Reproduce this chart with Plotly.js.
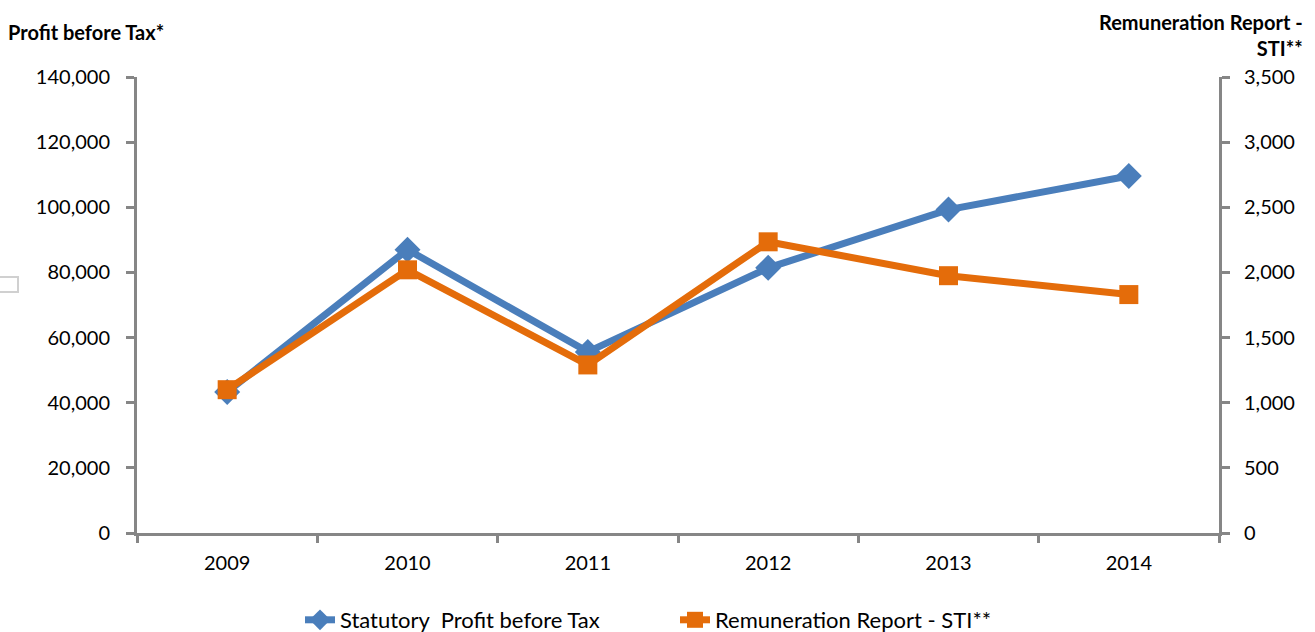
<!DOCTYPE html>
<html>
<head>
<meta charset="utf-8">
<script src="https://cdn.plot.ly/plotly-3.0.1.min.js"></script>
<style>html,body{margin:0;padding:0;background:#fff;}#chart{width:1315px;height:632px;}</style>
</head>
<body>
<div id="chart"></div>
<script>
const years = ["2009", "2010", "2011", "2012", "2013", "2014"];
const profitBeforeTax = [43300, 87000, 55600, 81400, 99300, 109600];
const stiValues = [1100, 2020, 1290, 2235, 1975, 1830];
const leftTickVals = [0, 20000, 40000, 60000, 80000, 100000, 120000, 140000];
const rightTickVals = [0, 500, 1000, 1500, 2000, 2500, 3000, 3500];

const FONT = "Lato, 'Open Sans', sans-serif";
const AXIS_COLOR = "#868686";
const PW = 1082, PH = 456;

const traces = [
  {
    x: years, y: profitBeforeTax, name: "Statutory  Profit before Tax",
    type: "scatter", mode: "lines+markers", yaxis: "y",
    line: {color: "#4A7EBB", width: 7},
    marker: {symbol: "diamond", size: 20, color: "#4A7EBB"}
  },
  {
    x: years, y: stiValues, name: "Remuneration Report - STI**",
    type: "scatter", mode: "lines+markers", yaxis: "y2",
    line: {color: "#E46C0A", width: 7},
    marker: {symbol: "square", size: 19, color: "#E46C0A"}
  }
];

const layout = {
  width: 1315, height: 632,
  margin: {l: 137, r: 96, t: 77, b: 99, autoexpand: false},
  paper_bgcolor: "#fff", plot_bgcolor: "#fff",
  font: {family: FONT, size: 20, color: "#000"},
  showlegend: true,
  legend: {orientation: "h", x: (300-137)/PW, xanchor: "left", y: -(620-533)/PH, yanchor: "middle",
           font: {family: FONT, size: 22, color: "#000"}, entrywidth: 330, entrywidthmode: "pixels"},
  xaxis: {
    type: "category", range: [-0.5, 5.5], showgrid: false, zeroline: false,
    showline: true, linecolor: AXIS_COLOR, linewidth: 3,
    ticks: "outside", tickson: "boundaries", ticklen: 7, tickwidth: 3, tickcolor: AXIS_COLOR,
    ticklabelstandoff: 10,
    tickfont: {family: FONT, size: 20, color: "#000"}
  },
  yaxis: {
    range: [0, 140000], tickvals: leftTickVals, tickformat: ",d",
    showgrid: false, zeroline: false, showline: true, linecolor: AXIS_COLOR, linewidth: 3,
    ticks: "outside", ticklen: 8, tickwidth: 3, tickcolor: AXIS_COLOR,
    ticklabelstandoff: 12,
    tickfont: {family: FONT, size: 20, color: "#000"}
  },
  yaxis2: {
    range: [0, 3500], tickvals: rightTickVals, tickformat: ",d",
    overlaying: "y", side: "right",
    showgrid: false, zeroline: false, showline: true, linecolor: AXIS_COLOR, linewidth: 3,
    ticks: "outside", ticklen: 8, tickwidth: 3, tickcolor: AXIS_COLOR,
    ticklabelstandoff: 10,
    tickfont: {family: FONT, size: 20, color: "#000"}
  },
  annotations: [
    {text: "<b>Profit before Tax*</b>", xref: "paper", yref: "paper", x: -131/PW, y: 1 + 45/PH,
     xanchor: "left", yanchor: "middle", showarrow: false, font: {family: FONT, size: 20, color: "#000"}},
    {text: "<b>Remuneration Report -<br>STI**</b>", xref: "paper", yref: "paper", x: 1 + 86/PW, y: 1 + 42/PH,
     xanchor: "right", yanchor: "middle", align: "right", showarrow: false,
     font: {family: FONT, size: 20, color: "#000"}}
  ],
  shapes: [
    {type: "rect", xref: "paper", yref: "paper", x0: -140/PW, x1: -119/PW,
     y0: (533-292)/PH, y1: (533-277)/PH, line: {color: "#d0d0d0", width: 2}, fillcolor: "rgba(0,0,0,0)"}
  ]
};

Plotly.newPlot("chart", traces, layout, {displayModeBar: false, staticPlot: true});
</script>
</body>
</html>
